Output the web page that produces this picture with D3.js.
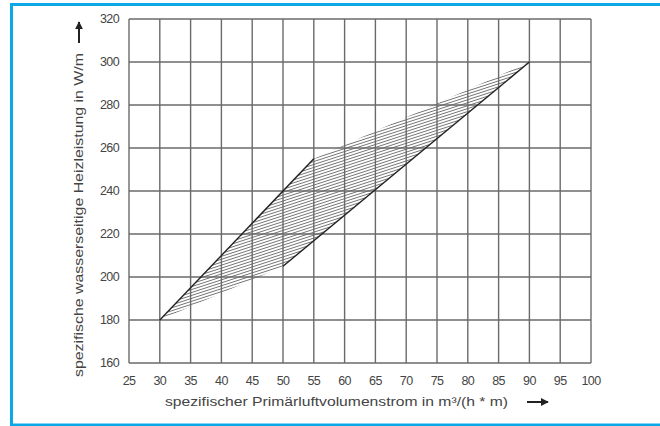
<!DOCTYPE html>
<html>
<head>
<meta charset="utf-8">
<script src="https://cdn.jsdelivr.net/npm/d3@7.9.0/dist/d3.min.js"></script>
<style>
  body { margin: 0; background: #fff; }
  svg { display: block; font-family: "Liberation Sans", Arial, sans-serif; }
</style>
</head>
<body>
<svg id="chart" width="660" height="426"></svg>
<script>
// axis ticks
const xTicks = d3.range(25, 101, 5);
const yTicks = d3.range(160, 321, 20);

// band of specific heat output vs. primary air flow
const bandPoly = [[30, 180], [55, 255], [90, 300], [50, 205]];
// solid boundary lines of the band
const upperEdge = [[30, 180], [55, 255]];
const lowerEdge = [[50, 205], [90, 300]];

const xTitle = "spezifischer Primärluftvolumenstrom in m³/(h * m)";
const yTitle = "spezifische wasserseitige Heizleistung in W/m";

const svg = d3.select('#chart');
const margin = { left: 129, right: 69, top: 19, bottom: 63 };
const W = 660, H = 426;

const x = d3.scaleLinear().domain([25, 100]).range([margin.left, W - margin.right]);
const y = d3.scaleLinear().domain([160, 320]).range([H - margin.bottom, margin.top]);

// blue frame
svg.append('rect')
  .attr('x', 11.5).attr('y', 4.5)
  .attr('width', 720).attr('height', 420.5)
  .attr('fill', 'none')
  .attr('stroke', '#0aa8e6')
  .attr('stroke-width', 3);

// hatch pattern
const defs = svg.append('defs');
const pat = defs.append('pattern')
  .attr('id', 'hatch')
  .attr('patternUnits', 'userSpaceOnUse')
  .attr('width', 10).attr('height', 2.8)
  .attr('patternTransform', 'rotate(-18)');
pat.append('line')
  .attr('x1', -1).attr('x2', 11)
  .attr('y1', 1.4).attr('y2', 1.4)
  .attr('stroke', '#666')
  .attr('stroke-width', 0.9);

// grid
const grid = svg.append('g').attr('stroke', '#6a6a6a').attr('stroke-width', 1.4);
grid.selectAll('line.v').data(xTicks).join('line')
  .attr('class', 'v')
  .attr('x1', d => x(d)).attr('x2', d => x(d))
  .attr('y1', y(160)).attr('y2', y(320));
grid.selectAll('line.h').data(yTicks).join('line')
  .attr('class', 'h')
  .attr('y1', d => y(d)).attr('y2', d => y(d))
  .attr('x1', x(25)).attr('x2', x(100));

// hatched band
const line = d3.line().x(d => x(d[0])).y(d => y(d[1]));
svg.append('path')
  .attr('d', line(bandPoly) + 'Z')
  .attr('fill', 'url(#hatch)')
  .attr('stroke', 'none');

[upperEdge, lowerEdge].forEach(seg => {
  svg.append('path')
    .attr('d', line(seg))
    .attr('fill', 'none')
    .attr('stroke', '#222')
    .attr('stroke-width', 1.4);
});

// tick labels
svg.append('g').selectAll('text').data(xTicks).join('text')
  .attr('x', d => x(d))
  .attr('y', y(160) + 22)
  .attr('text-anchor', 'middle')
  .attr('font-size', 12.5)
  .attr('letter-spacing', -0.6)
  .attr('fill', '#444')
  .text(d => d);

svg.append('g').selectAll('text').data(yTicks).join('text')
  .attr('x', x(25) - 10)
  .attr('y', d => y(d) + 4)
  .attr('text-anchor', 'end')
  .attr('font-size', 12.5)
  .attr('letter-spacing', -0.6)
  .attr('fill', '#444')
  .text(d => d);

// axis titles
svg.append('text')
  .attr('x', 165).attr('y', 406)
  .attr('font-size', 13)
  .attr('fill', '#444')
  .attr('textLength', 343)
  .attr('lengthAdjust', 'spacingAndGlyphs')
  .text(xTitle);

svg.append('text')
  .attr('transform', 'translate(83,377) rotate(-90)')
  .attr('font-size', 13)
  .attr('fill', '#444')
  .attr('textLength', 324)
  .attr('lengthAdjust', 'spacingAndGlyphs')
  .text(yTitle);

// arrows
defs.append('marker')
  .attr('id', 'arrow')
  .attr('viewBox', '0 0 10 10')
  .attr('refX', 9).attr('refY', 5)
  .attr('markerWidth', 4).attr('markerHeight', 4)
  .attr('orient', 'auto')
  .append('path')
  .attr('d', 'M0,0 L10,5 L0,10 Z')
  .attr('fill', '#222');

svg.append('line')
  .attr('x1', 527).attr('x2', 548)
  .attr('y1', 402).attr('y2', 402)
  .attr('stroke', '#222').attr('stroke-width', 2)
  .attr('marker-end', 'url(#arrow)');

svg.append('line')
  .attr('x1', 79).attr('x2', 79)
  .attr('y1', 43).attr('y2', 22)
  .attr('stroke', '#222').attr('stroke-width', 2)
  .attr('marker-end', 'url(#arrow)');
</script>
</body>
</html>
